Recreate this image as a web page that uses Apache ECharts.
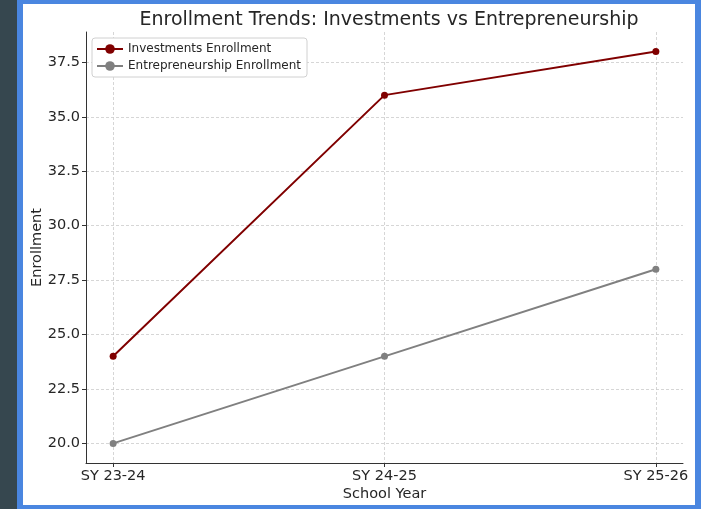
<!DOCTYPE html>
<html>
<head>
<meta charset="utf-8">
<script src="https://cdn.jsdelivr.net/npm/echarts@6/dist/echarts.min.js"></script>
<style>
html,body{margin:0;padding:0;width:701px;height:509px;overflow:hidden;background:#4a86e0;}
#strip{position:absolute;left:0;top:0;width:17px;height:509px;background:#36474f;}
#panel{position:absolute;left:23px;top:4px;width:672px;height:501px;background:#ffffff;}
#chart{position:absolute;left:0;top:0;width:701px;height:509px;}
</style>
</head>
<body>
<div id="strip"></div>
<div id="panel"></div>
<div id="chart"></div>
<script>
const categories = ["SY 23-24", "SY 24-25", "SY 25-26"];
const investments = [24, 36, 38];
const entrepreneurship = [20, 24, 28];
const yTicks = [20.0, 22.5, 25.0, 27.5, 30.0, 32.5, 35.0, 37.5];
const xTicks = [0, 1, 2];

const font = 'DejaVu Sans';
const chart = echarts.init(document.getElementById('chart'), null, {renderer: 'canvas'});
chart.setOption({
  backgroundColor: 'transparent',
  animation: false,
  title: {
    text: 'Enrollment Trends: Investments vs Entrepreneurship',
    left: 384, top: 6, textAlign: 'center',
    textStyle: {fontFamily: font, fontSize: 19, fontWeight: 'normal', color: '#262626'}
  },
  legend: {
    orient: 'vertical', left: 92, top: 38,
    padding: [5, 6, 5, 4], itemGap: 5, itemWidth: 26, itemHeight: 12,
    borderColor: '#d0d0d0', borderWidth: 1, borderRadius: 3, backgroundColor: '#fff',
    textStyle: {fontFamily: font, fontSize: 12, color: '#262626'},
    data: ['Investments Enrollment', 'Entrepreneurship Enrollment']
  },
  grid: {left: 86, top: 32, right: 18, bottom: 46, containLabel: false},
  xAxis: {
    type: 'value', min: -0.1, max: 2.1,
    name: 'School Year', nameLocation: 'middle', nameGap: 24, nameMoveOverlap: false,
    nameTextStyle: {fontFamily: font, fontSize: 14.5, color: '#262626'},
    axisLine: {show: true, onZero: false, lineStyle: {color: '#333', width: 1}},
    axisTick: {show: true, length: 4, customValues: xTicks, lineStyle: {color: '#333'}},
    axisLabel: {customValues: xTicks, formatter: v => categories[Math.round(v)],
      fontFamily: font, fontSize: 14.5, color: '#262626', margin: 6},
    splitLine: {show: true, lineStyle: {color: '#cccccc', type: [3, 2], width: 0.8}}
  },
  yAxis: {
    type: 'value', min: 19.1, max: 38.9,
    name: 'Enrollment', nameLocation: 'middle', nameGap: 41, nameRotate: 90, nameMoveOverlap: false,
    nameTextStyle: {fontFamily: font, fontSize: 14.5, color: '#262626'},
    axisLine: {show: true, onZero: false, lineStyle: {color: '#333', width: 1}},
    axisTick: {show: true, length: 4, customValues: yTicks, lineStyle: {color: '#333'}},
    axisLabel: {customValues: yTicks, formatter: v => v.toFixed(1),
      fontFamily: font, fontSize: 14.5, color: '#262626', margin: 6},
    splitLine: {show: true, lineStyle: {color: '#cccccc', type: [3, 2], width: 0.8}}
  },
  series: [
    {
      name: 'Investments Enrollment', type: 'line',
      data: investments.map((v, i) => [i, v]),
      symbol: 'circle', symbolSize: 7,
      lineStyle: {color: '#800000', width: 2}, itemStyle: {color: '#800000'}
    },
    {
      name: 'Entrepreneurship Enrollment', type: 'line',
      data: entrepreneurship.map((v, i) => [i, v]),
      symbol: 'circle', symbolSize: 7,
      lineStyle: {color: '#808080', width: 2}, itemStyle: {color: '#808080'}
    }
  ]
});
</script>
</body>
</html>
